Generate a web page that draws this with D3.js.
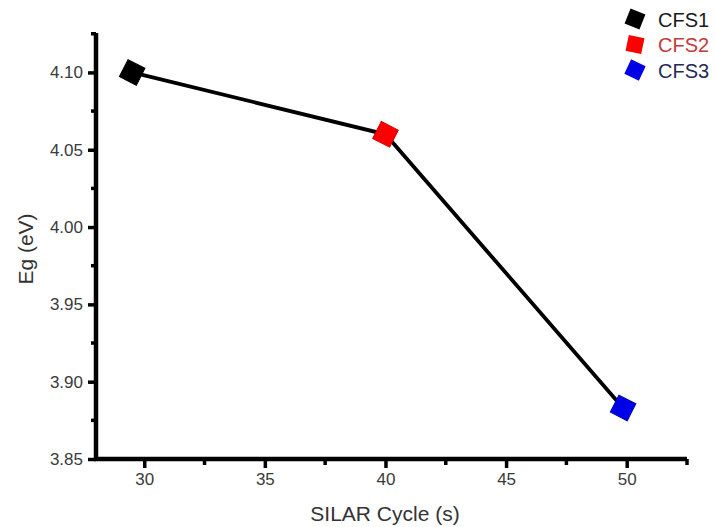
<!DOCTYPE html>
<html>
<head>
<meta charset="utf-8">
<script src="https://cdn.jsdelivr.net/npm/d3@7"></script>
<style>
  html, body { margin: 0; padding: 0; background: #fff; }
  svg { display: block; }
</style>
</head>
<body>
<svg id="chart" width="715" height="527"></svg>
<script>
// Band gap vs. number of SILAR cycles
const samples = ["CFS1", "CFS2", "CFS3"];
const cycles = [29.5, 40, 49.85];
const bandGap = [4.10, 4.06, 3.883];
const colors = ["#000000", "#ff0000", "#0000e6"];
const labelColors = ["#1a1a1a", "#c23a3a", "#262a52"];
const xTicks = [30, 35, 40, 45, 50];
const yTicks = [3.85, 3.90, 3.95, 4.00, 4.05, 4.10];

const svg = d3.select("#chart");
const font = "Arial, 'Liberation Sans', sans-serif";

const x = d3.scaleLinear().domain([28, 52.5]).range([96, 687]);
const y = d3.scaleLinear().domain([3.85, 4.1255]).range([459, 33]);

// y axis
const yAxis = d3.axisLeft(y).tickValues(yTicks).tickFormat(d3.format(".2f"))
  .tickSize(8).tickSizeOuter(0).tickPadding(5);
const gy = svg.append("g").attr("transform", `translate(${x.range()[0]},0)`).call(yAxis);
gy.select(".domain").style("stroke", "#000").style("stroke-width", "4.5px")
  .attr("d", `M0,${y.range()[0] + 2}V${y.range()[1]}`);
gy.selectAll(".tick line").style("stroke", "#000").style("stroke-width", "3.5px");
gy.selectAll(".tick text").attr("fill", "#3a3a3a").style("font", `17px ${font}`);
// y minor ticks
gy.selectAll(".minor").data(d3.range(3.875, 4.126, 0.05)).enter().append("line")
  .attr("x1", -5).attr("x2", 0).attr("y1", d => y(d)).attr("y2", d => y(d))
  .style("stroke", "#000").style("stroke-width", "3.5px");

// x axis
const xAxis = d3.axisBottom(x).tickValues(xTicks).tickFormat(d3.format("d"))
  .tickSize(9).tickSizeOuter(0).tickPadding(5);
const gx = svg.append("g").attr("transform", `translate(0,${y.range()[0]})`).call(xAxis);
gx.select(".domain").style("stroke", "#000").style("stroke-width", "4.5px")
  .attr("d", `M${x.range()[0] - 2},0H${x.range()[1]}`);
gx.selectAll(".tick line").style("stroke", "#000").style("stroke-width", "3.5px");
gx.selectAll(".tick text").attr("fill", "#3a3a3a").style("font", `17px ${font}`);
gx.selectAll(".minor").data([32.5, 37.5, 42.5, 47.5, 52.5]).enter().append("line")
  .attr("x1", d => x(d)).attr("x2", d => x(d)).attr("y1", 0).attr("y2", 6)
  .style("stroke", "#000").style("stroke-width", "3.5px");

// axis titles
svg.append("text")
  .attr("x", 385).attr("y", 521)
  .attr("text-anchor", "middle").attr("fill", "#333")
  .style("font", `21px ${font}`)
  .text("SILAR Cycle (s)");
svg.append("text")
  .attr("transform", "translate(33,249) rotate(-90)")
  .attr("text-anchor", "middle").attr("fill", "#333")
  .style("font", `21px ${font}`)
  .text("Eg (eV)");

// connecting line
const pts = cycles.map((c, i) => [x(c), y(bandGap[i])]);
svg.append("path")
  .attr("d", d3.line()(pts))
  .attr("fill", "none").attr("stroke", "#000").attr("stroke-width", 3.8);

// tilted square markers
const side = 19;
svg.selectAll(".pt").data(pts).enter().append("rect")
  .attr("x", -side / 2).attr("y", -side / 2)
  .attr("width", side).attr("height", side)
  .attr("transform", d => `translate(${d[0]},${d[1]}) rotate(27)`)
  .attr("fill", (d, i) => colors[i])
  .attr("stroke", (d, i) => d3.color(colors[i]).darker(0.6))
  .attr("stroke-width", 1);

// legend
const legend = svg.append("g");
const rows = legend.selectAll("g").data(samples).enter().append("g")
  .attr("transform", (d, i) => `translate(635,${19 + i * 25.5})`);
rows.append("rect")
  .attr("x", -8).attr("y", -8).attr("width", 16).attr("height", 16)
  .attr("transform", (d, i) => `rotate(${[22, 12, 25][i]})`)
  .attr("fill", (d, i) => colors[i]);
rows.append("text")
  .attr("x", 23).attr("y", 7.5)
  .attr("fill", (d, i) => labelColors[i])
  .style("font", `20px ${font}`)
  .text(d => d);
</script>
</body>
</html>
